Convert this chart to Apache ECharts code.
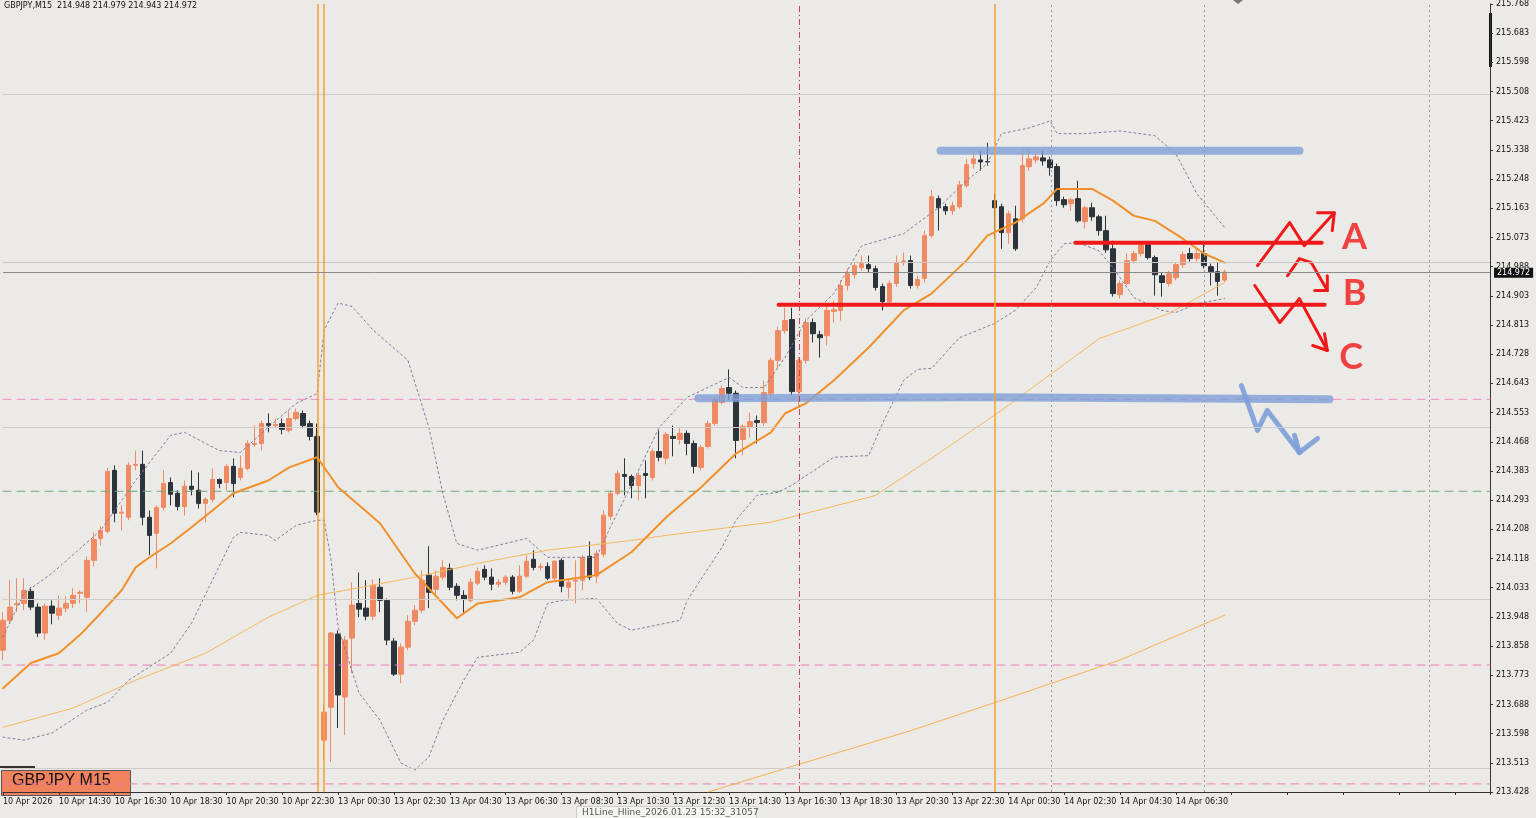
<!DOCTYPE html>
<html lang="en">
<head>
    <meta charset="UTF-8">
    <title>GBPJPY M15</title>
    <script src="https://cdn.jsdelivr.net/npm/echarts@6/dist/echarts.min.js"></script>
    <style>
        html, body { margin: 0; padding: 0; background: #ECEAE6; }
        #main { width: 1536px; height: 818px; }
    </style>
</head>
<body>
<div id="main"></div>
<script>
// candle values, one per 15 min bar
var opens = [213.849,213.938,213.985,213.988,214.024,213.977,213.900,213.980,213.953,213.974,
213.988,214.018,214.006,214.116,214.181,214.202,214.383,214.256,214.244,214.398,
214.401,214.244,214.196,214.273,214.347,214.315,214.276,214.336,214.324,214.285,
214.297,214.356,214.347,214.395,214.362,214.389,214.460,214.463,214.522,214.516,
214.522,214.502,214.537,214.552,214.522,214.484,213.582,213.680,213.897,213.710,
213.885,213.988,213.974,213.950,214.036,213.997,213.876,213.778,213.858,213.935,
213.968,214.072,214.030,214.066,214.092,214.039,214.012,213.997,214.048,214.089,
214.066,214.045,214.051,214.066,214.024,214.069,214.119,214.095,214.098,214.063,
214.116,214.036,214.054,214.057,214.128,214.069,214.134,214.247,214.315,214.371,
214.365,214.338,214.374,214.362,214.439,214.419,214.484,214.475,214.493,214.463,
214.392,214.454,214.522,214.585,214.629,214.612,214.475,214.511,214.531,214.525,
214.611,214.710,214.798,214.831,214.617,214.710,214.822,214.786,214.783,214.855,
214.858,214.932,214.964,214.985,214.994,214.982,214.929,214.884,214.938,215.003,
215.006,214.932,214.953,215.080,215.190,215.166,215.154,215.166,215.228,215.294,
215.305,215.300,215.184,215.166,215.089,215.130,215.130,215.285,215.305,215.311,
215.305,215.285,215.187,215.175,215.190,215.122,215.163,215.136,215.095,215.041,
214.905,214.938,215.006,215.027,215.053,215.015,214.961,214.938,214.955,214.994,
215.027,215.012,215.027,214.988,214.973,214.948];
var closes = [213.938,213.977,213.988,214.027,213.977,213.900,213.980,213.959,213.974,213.988,
214.012,214.021,214.116,214.178,214.205,214.380,214.256,214.259,214.398,214.401,
214.244,214.190,214.273,214.344,214.312,214.276,214.336,214.327,214.285,214.297,
214.356,214.344,214.395,214.344,214.389,214.463,214.463,214.522,214.516,214.519,
214.505,214.537,214.555,214.516,214.484,214.259,213.665,213.900,213.716,213.879,
213.983,213.971,213.950,214.042,213.997,213.879,213.778,213.858,213.935,213.968,
214.057,214.021,214.069,214.095,214.036,214.012,214.000,214.051,214.083,214.066,
214.045,214.051,214.066,214.024,214.069,214.113,214.095,214.098,214.063,214.113,
214.039,214.051,214.057,214.125,214.066,214.137,214.250,214.315,214.374,214.365,
214.338,214.368,214.368,214.439,214.422,214.490,214.478,214.493,214.463,214.395,
214.451,214.522,214.594,214.626,214.612,214.472,214.514,214.528,214.525,214.614,
214.710,214.798,214.828,214.617,214.710,214.822,214.789,214.777,214.858,214.860,
214.932,214.967,214.991,214.997,214.982,214.926,214.884,214.938,215.000,215.005,
214.932,214.950,215.080,215.196,215.163,215.154,215.169,215.231,215.291,215.308,
215.299,215.299,215.163,215.089,215.145,215.041,215.288,215.308,215.314,215.302,
215.282,215.184,215.172,215.187,215.124,215.163,215.136,215.095,215.038,214.908,
214.938,215.006,215.027,215.053,215.015,214.964,214.941,214.967,214.994,215.024,
215.012,215.027,214.991,214.973,214.944,214.972];
var lows = [213.819,213.926,213.962,213.968,213.968,213.888,213.879,213.926,213.938,213.962,
213.974,213.988,213.962,214.098,214.160,214.196,214.229,214.205,214.235,214.383,
214.220,214.131,214.092,214.264,214.279,214.264,214.249,214.309,214.270,214.229,
214.288,214.330,214.324,214.303,214.353,214.383,214.454,214.442,214.496,214.508,
214.490,214.496,214.531,214.508,214.472,214.250,213.523,213.517,213.618,213.597,
213.781,213.947,213.938,213.938,213.962,213.864,213.772,213.751,213.849,213.923,
213.959,213.974,214.015,214.057,214.027,213.997,213.959,213.991,214.042,214.057,
214.027,214.036,214.042,214.015,214.018,214.063,214.086,214.086,214.057,214.057,
214.021,214.003,213.988,214.027,214.057,214.048,214.125,214.235,214.309,214.309,
214.300,214.294,214.300,214.353,214.410,214.401,214.425,214.460,214.428,214.374,
214.383,214.448,214.516,214.579,214.591,214.419,214.428,214.481,214.463,214.516,
214.597,214.686,214.789,214.605,214.576,214.700,214.763,214.718,214.754,214.822,
214.828,214.917,214.952,214.976,214.970,214.917,214.858,214.875,214.929,214.991,
214.923,214.923,214.941,215.074,215.095,215.142,215.142,215.160,215.222,215.279,
215.273,215.288,215.071,215.041,215.056,215.035,215.119,215.273,215.296,215.288,
215.258,215.169,215.163,215.154,215.119,215.101,215.124,215.080,215.029,214.899,
214.893,214.932,214.997,215.018,215.009,214.902,214.899,214.929,214.947,214.985,
215.003,215.003,214.982,214.932,214.902,214.943];
var highs = [213.962,214.057,214.063,214.063,214.036,213.988,213.988,213.997,214.012,214.009,
214.033,214.027,214.128,214.199,214.217,214.390,214.398,214.279,214.407,214.442,
214.442,214.264,214.279,214.383,214.362,214.324,214.353,214.383,214.377,214.303,
214.389,214.359,214.401,214.419,214.427,214.472,214.516,214.531,214.552,214.537,
214.537,214.561,214.567,214.561,214.531,214.522,213.686,213.903,213.908,213.891,
214.051,214.080,214.057,214.060,214.063,214.003,213.885,213.870,213.953,213.983,
214.086,214.158,214.086,214.116,214.107,214.048,214.027,214.063,214.095,214.101,
214.092,214.060,214.072,214.072,214.101,214.131,214.146,214.107,214.110,214.116,
214.122,214.057,214.116,214.131,214.172,214.146,214.264,214.324,214.383,214.419,
214.371,214.377,214.413,214.448,214.502,214.496,214.516,214.508,214.502,214.472,
214.460,214.531,214.603,214.635,214.683,214.620,214.519,214.555,214.546,214.650,
214.718,214.810,214.866,214.866,214.718,214.834,214.834,214.798,214.869,214.887,
214.947,214.982,215.000,215.021,215.021,214.991,214.938,214.947,215.021,215.030,
215.021,214.961,215.095,215.216,215.199,215.175,215.181,215.243,215.308,215.332,
215.332,215.356,215.205,215.175,215.154,215.169,215.338,215.338,215.326,215.332,
215.314,215.294,215.196,215.193,215.243,215.169,215.178,215.142,215.139,215.065,
214.947,215.027,215.035,215.059,215.059,215.021,214.970,214.976,215.000,215.033,
215.044,215.041,215.056,214.997,215.000,214.979];

// indicator lines read as [bar, price]
var maFast = [[0,213.736],[4,213.811],[8,213.840],[11,213.894],[14,213.959],[17,214.027],[19,214.095],
[21,214.125],[24,214.166],[27,214.214],[30,214.264],[33,214.315],[38,214.353],[41,214.392],[45,214.422],
[48,214.333],[54,214.226],[59,214.077],[65,213.944],[68,213.988],[74,214.006],[78,214.051],[82,214.063],
[85,214.072],[90,214.140],[95,214.244],[100,214.333],[105,214.433],[110,214.496],[112,214.552],[115,214.582],
[119,214.650],[124,214.748],[129,214.858],[133,214.908],[138,215.006],[141,215.080],[145,215.119],
[149,215.175],[151,215.219],[156,215.219],[159,215.184],[162,215.139],[165,215.124],[169,215.071],
[172,215.027],[175,215.000]];
var maSlow = [[0,213.620],[10,213.677],[19,213.760],[29,213.840],[38,213.947],[45,214.012],[49,214.027],
[59,214.066],[68,214.107],[78,214.146],[90,214.175],[95,214.190],[110,214.229],[124,214.303],[125,214.309],
[133,214.419],[143,214.561],[157,214.774],[167,214.849],[175,214.941]];
var maLong = [[101,213.428],[114,213.510],[130,213.610],[143,213.700],[160,213.820],[175,213.953]];
var bandUpper = [[0,213.888],[3,214.018],[7,214.077],[14,214.205],[19,214.353],[24,214.487],[26,214.496],
[31,214.442],[34,214.436],[38,214.511],[42,214.582],[45,214.611],[46,214.800],[48,214.880],[50,214.870],
[53,214.800],[58,214.710],[61,214.511],[63,214.315],[65,214.166],[68,214.146],[75,214.181],[78,214.125],
[85,214.125],[87,214.214],[90,214.339],[94,214.511],[98,214.600],[104,214.659],[106,214.629],[109,214.629],
[112,214.718],[115,214.828],[119,214.908],[123,215.050],[129,215.086],[134,215.163],[138,215.243],
[141,215.294],[143,215.383],[147,215.400],[150,215.421],[151,215.383],[155,215.383],[160,215.391],
[165,215.377],[168,215.323],[171,215.205],[175,215.104]];
var bandLower = [[0,213.591],[3,213.582],[7,213.603],[12,213.671],[15,213.695],[18,213.760],[24,213.840],
[27,213.929],[30,214.057],[33,214.184],[34,214.199],[38,214.190],[39,214.175],[42,214.220],[45,214.235],
[46,214.235],[47,214.116],[48,213.917],[51,213.722],[54,213.641],[57,213.514],[59,213.493],[61,213.532],
[63,213.641],[66,213.760],[68,213.828],[74,213.843],[76,213.879],[78,213.988],[80,213.997],[85,214.003],
[88,213.929],[90,213.908],[97,213.938],[98,213.997],[103,214.155],[105,214.235],[108,214.309],[111,214.318],
[113,214.339],[119,214.422],[124,214.427],[126,214.523],[129,214.650],[131,214.683],[133,214.686],
[137,214.777],[142,214.819],[145,214.858],[148,214.926],[150,215.006],[152,215.056],[154,215.059],
[157,215.035],[159,214.985],[162,214.896],[166,214.858],[168,214.852],[171,214.878],[175,214.893]];

// horizontal levels from the terminal
var pinkLevels = [214.594, 213.805, 213.452];
var greenLevel = 214.321;

// hand drawn levels and arrows
var blueTop = [[134.3,215.332],[185.7,215.332]];
var blueMid = [[99.6,214.597],[140,214.600],[190,214.594]];
var redTop = [[153.6,215.059],[188.9,215.059]];
var redBot = [[111.1,214.875],[189.3,214.875]];
var arrowA = [[179.7,214.991],[184.3,215.119],[186.4,215.050],[190.7,215.148]];
var headA = [[188.3,215.148],[190.7,215.148],[190.4,215.095]];
var arrowB = [[184.0,214.961],[185.7,215.012],[187.4,215.000],[189.7,214.917]];
var headB = [[187.9,214.917],[189.7,214.917],[189.7,214.961]];
var arrowC = [[179.3,214.932],[182.9,214.822],[185.7,214.893],[189.7,214.739]];
var headC = [[187.6,214.754],[189.7,214.739],[189.3,214.789]];
var arrowBlue = [[177.4,214.635],[179.7,214.502],[181.1,214.561],[185.7,214.436]];
var headBlue = [[185.0,214.487],[185.7,214.436],[188.3,214.478]];
var letters = [[193.6,215.074,'A'],[193.6,214.908,'B'],[193.1,214.719,'C']];

var priceTicks = ['213.428','213.513','213.598','213.688','213.773','213.858','213.948','214.033','214.118',
'214.208','214.293','214.383','214.468','214.553','214.643','214.728','214.813','214.903','214.988','215.073',
'215.163','215.248','215.338','215.423','215.508','215.598','215.683','215.768'];
var timeTicks = ['10 Apr 2026','10 Apr 14:30','10 Apr 16:30','10 Apr 18:30','10 Apr 20:30','10 Apr 22:30',
'13 Apr 00:30','13 Apr 02:30','13 Apr 04:30','13 Apr 06:30','13 Apr 08:30','13 Apr 10:30','13 Apr 12:30',
'13 Apr 14:30','13 Apr 16:30','13 Apr 18:30','13 Apr 20:30','13 Apr 22:30','14 Apr 00:30','14 Apr 02:30',
'14 Apr 04:30','14 Apr 06:30'];

var yMin = 213.428, yMax = 215.768, xMax = 213;

var candles = [];
for (var i = 0; i < closes.length; i++) {
    candles.push([i, opens[i], closes[i], lows[i], highs[i]]);
}

function line(data, color, width, type, opacity) {
    return {
        type: 'line', data: data, symbol: 'none', silent: true, animation: false,
        lineStyle: { color: color, width: width, type: type || 'solid', opacity: opacity || 1, cap: 'round', join: 'round' }
    };
}
function level(p, color) {
    return line([[0, p], [xMax, p]], color, 1, [8, 6]);
}

var myChart = echarts.init(document.getElementById('main'));
var option = {
    backgroundColor: '#ECEAE6',
    animation: false,
    grid: { left: 0, right: 46, top: 3, bottom: 26 },
    xAxis: {
        type: 'value', min: 0, max: xMax, interval: 8,
        axisLine: { show: true, onZero: false, lineStyle: { color: '#333' } },
        axisTick: { show: true, length: 3, lineStyle: { color: '#333' } },
        splitLine: { show: false },
        axisLabel: {
            align: 'left', fontSize: 8, color: '#111', fontFamily: 'DejaVu Sans', margin: 6,
            formatter: function (v) { return timeTicks[v / 8] || ''; }
        }
    },
    yAxis: {
        type: 'value', position: 'right', min: yMin, max: yMax, interval: (yMax - yMin) / 27,
        axisLine: { show: true, onZero: false, lineStyle: { color: '#333' } },
        axisTick: { show: true, length: 3, lineStyle: { color: '#333' } },
        splitLine: { show: false },
        axisLabel: {
            fontSize: 8, color: '#111', fontFamily: 'DejaVu Sans', margin: 6,
            formatter: function (v) {
                var k = Math.round((v - yMin) / ((yMax - yMin) / 27));
                return priceTicks[k] || '';
            }
        }
    },
    series: [
        {
            type: 'line', data: [], silent: true,
            markLine: {
                symbol: 'none', silent: true, label: { show: false },
                data: [
                    { yAxis: 215.498, lineStyle: { color: '#cfcdca', type: 'solid', width: 1 } },
                    { yAxis: 215.003, lineStyle: { color: '#c8c6c3', type: 'solid', width: 1 } },
                    { yAxis: 214.508, lineStyle: { color: '#cfcdca', type: 'solid', width: 1 } },
                    { yAxis: 214.000, lineStyle: { color: '#cfcdca', type: 'solid', width: 1 } },
                    { yAxis: 213.499, lineStyle: { color: '#cfcdca', type: 'solid', width: 1 } },
                    { xAxis: 45.1, lineStyle: { color: '#f5a030', type: 'solid', width: 1.5 } },
                    { xAxis: 45.9, lineStyle: { color: '#f5a030', type: 'solid', width: 1.5 } },
                    { xAxis: 142.1, lineStyle: { color: '#f5a030', type: 'solid', width: 1.5 } },
                    { xAxis: 114.1, lineStyle: { color: '#c0484e', type: [6, 3, 1, 3], width: 1 } },
                    { xAxis: 150.1, lineStyle: { color: '#999', type: [2, 3], width: 1 } },
                    { xAxis: 172.1, lineStyle: { color: '#999', type: [2, 3], width: 1 } },
                    { xAxis: 204.3, lineStyle: { color: '#999', type: [2, 3], width: 1 } },
                    {
                        yAxis: 214.972, lineStyle: { color: '#8c8c8c', type: 'solid', width: 1 },
                        label: {
                            show: true, position: 'end', formatter: '214.972', color: '#fff',
                            backgroundColor: '#111', fontSize: 8, fontFamily: 'DejaVu Sans',
                            padding: [1, 3], distance: 4
                        }
                    }
                ]
            }
        },
        level(pinkLevels[0], '#f08cc4'),
        level(pinkLevels[1], '#f07cb8'),
        level(pinkLevels[2], '#f07cb8'),
        level(greenLevel, '#6aac78'),
        line(bandUpper, '#7d7a9e', 1, [2, 3]),
        line(bandLower, '#7d7a9e', 1, [2, 3]),
        line(maSlow, '#f6b65a', 1),
        line(maLong, '#f6b050', 1),
        line(maFast, '#f1902a', 2),
        {
            type: 'candlestick', data: candles, barWidth: 5, silent: true,
            encode: { x: 0, y: [1, 2, 3, 4] },
            itemStyle: {
                color: '#F08A63', color0: '#2C333B',
                borderColor: '#F08A63', borderColor0: '#2C333B', borderWidth: 1
            }
        },
        line(blueTop, '#7d9fd8', 8, 'solid', 0.8),
        line(blueMid, '#7d9fd8', 8, 'solid', 0.8),
        line(redTop, '#f01818', 4),
        line(redBot, '#f01818', 4),
        line(arrowA, '#f01818', 3),
        line(headA, '#f01818', 3),
        line(arrowB, '#f01818', 3),
        line(headB, '#f01818', 3),
        line(arrowC, '#f01818', 3),
        line(headC, '#f01818', 3),
        line(arrowBlue, '#7d9fd8', 5, 'solid', 0.9),
        line(headBlue, '#7d9fd8', 5, 'solid', 0.9),
        {
            type: 'scatter', data: letters, symbolSize: 0, silent: true,
            label: {
                show: true, position: 'inside', color: '#f01818', fontSize: 36,
                fontFamily: 'Lato', fontWeight: 'bold',
                formatter: function (p) { return p.data[2]; }
            }
        }
    ],
    graphic: [
        { type: 'text', left: 4, top: 2, style: { text: 'GBPJPY,M15  214.948 214.979 214.943 214.972', fontSize: 8, fill: '#111', fontFamily: 'DejaVu Sans' } },
        { type: 'rect', left: 0, top: 766, shape: { width: 35, height: 2 }, style: { fill: '#333' } },
        { type: 'rect', left: 1, top: 770, shape: { width: 129, height: 25 }, style: { fill: '#F0825E', stroke: '#555', lineWidth: 1 } },
        { type: 'text', left: 12, top: 773, style: { text: 'GBPJPY M15', fontSize: 16, fill: '#111', fontFamily: 'Liberation Sans' } },
        { type: 'rect', left: 1489, top: 13, shape: { width: 3, height: 54 }, style: { fill: '#111' } },
        { type: 'polygon', shape: { points: [[1233, 0], [1243, 0], [1238, 4]] }, style: { fill: '#777' } },
        { type: 'rect', left: 576, top: 806, shape: { width: 180, height: 12 }, style: { fill: '#f4f4f2', stroke: '#ccc' } },
        { type: 'text', left: 582, top: 808, style: { text: 'H1Line_Hline_2026.01.23 15:32_31057', fontSize: 9, fill: '#555', fontFamily: 'DejaVu Sans' } }
    ]
};
myChart.setOption(option);
</script>
</body>
</html>
